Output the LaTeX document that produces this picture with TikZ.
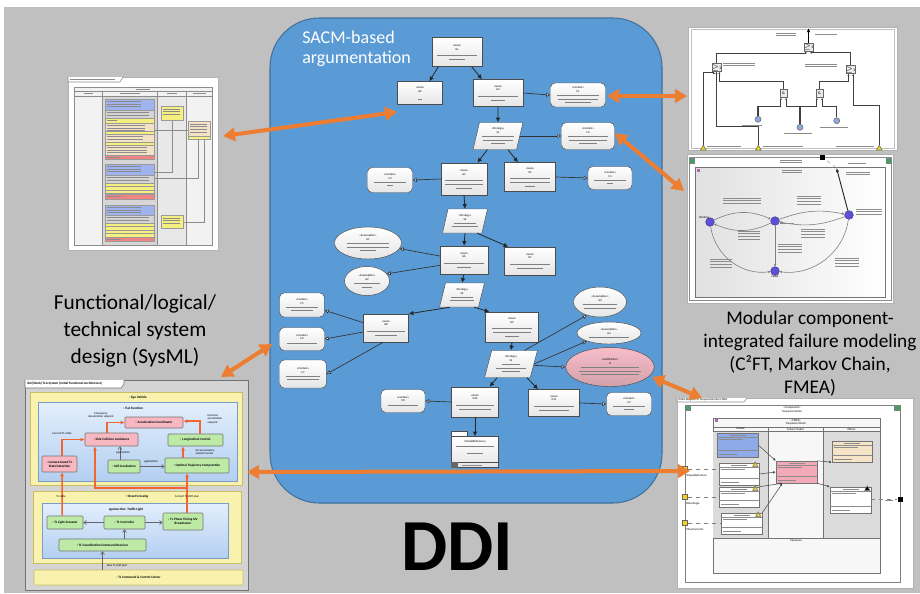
\documentclass[tikz,border=0pt]{standalone}
\usepackage{fontspec}
\setmainfont{Carlito}
\usetikzlibrary{arrows.meta,shapes.geometric,positioning}

\definecolor{bggray}{HTML}{C0C0C0}
\definecolor{sacmblue}{HTML}{5B9BD5}
\definecolor{sacmline}{HTML}{41719C}
\definecolor{ddiorange}{HTML}{ED7D31}
\definecolor{flowred}{HTML}{F26430}
\definecolor{justpink}{HTML}{F7BDC8}
\definecolor{sysyellow}{HTML}{F8F2AE}
\definecolor{sysyelline}{HTML}{C9BF62}
\definecolor{sysbluetop}{HTML}{E3EFFC}
\definecolor{sysbluebot}{HTML}{B3CFF1}
\definecolor{sysblueline}{HTML}{7D9CC4}
\definecolor{syspink}{HTML}{F8B8C2}
\definecolor{sysgreen}{HTML}{BDEBA6}
\definecolor{cellblue}{HTML}{9FB4EE}
\definecolor{cellgray}{HTML}{D4D4D4}
\definecolor{cellyellow}{HTML}{F4EF7E}
\definecolor{cellbeige}{HTML}{F3E2C6}
\definecolor{cellred}{HTML}{EE8585}
\definecolor{statepurple}{HTML}{5B50D6}
\definecolor{fmeablue}{HTML}{8FAAE8}
\definecolor{fmeapink}{HTML}{F3A9B8}
\definecolor{fmeabeige}{HTML}{F5E4C8}
\definecolor{portyellow}{HTML}{F2D21B}
\definecolor{cornergreen}{HTML}{3DA35D}

\newcommand{\fk}[1]{\textcolor{black!50}{\rule[0.3pt]{#1pt}{0.35pt}}}
\newcommand{\sacmfont}{\fontsize{2.2}{2.7}\selectfont}
\newcommand{\sysfont}{\fontsize{2.5}{3}\selectfont}
\newcommand{\shotfont}{\fontsize{2.2}{2.6}\selectfont}
\newcommand{\fakelines}[4]{\foreach \fli in {1,...,#3}{\draw[faketxt] (#1,{#2+2.6*(\fli-1)}) -- ++(#4,0);}}

\tikzset{
  wh/.style 2 args={minimum width=#1*0.75pt,minimum height=#2*0.75pt},
  faketxt/.style={black!45,line width=0.35pt},
  sacm/.style={draw=black!70,top color=white,bottom color=black!10,line width=0.35pt,inner sep=0.5pt,font=\sacmfont,align=center},
  goal/.style={sacm,rectangle},
  context/.style={sacm,rectangle,rounded corners=3.5pt},
  strategy/.style={sacm,trapezium,trapezium left angle=72,trapezium right angle=108,trapezium stretches=true},
  assume/.style={sacm,ellipse},
  support/.style={-{Latex[length=3.5pt,width=3.5pt]},line width=0.6pt,black!85},
  incontext/.style={-{Triangle[length=3pt,width=3pt,fill=white]},line width=0.5pt,black!80},
  bigarrow/.style={{Triangle[length=9pt,width=10pt]}-{Triangle[length=9pt,width=10pt]},line width=3pt,ddiorange},
  blk/.style={draw=black!55,line width=0.4pt,rounded corners=0.8pt,font=\sysfont\bfseries,inner sep=0.5pt,align=center},
  pinkblk/.style={blk,fill=syspink},
  greenblk/.style={blk,fill=sysgreen},
  flow/.style={-{Latex[length=3pt,width=3pt]},line width=1.1pt,flowred},
  sig/.style={-{Straight Barb[length=2pt,width=3pt]},line width=0.5pt,black!60},
  cell/.style={draw=black!40,line width=0.3pt},
  gate/.style={draw=black!60,fill=black!8,font=\fontsize{3}{3}\selectfont,inner sep=0,wh={7}{8}},
  ftin/.style={-{Latex[length=1.6pt,width=1.6pt]},black!75,line width=0.8pt},
  basicev/.style={circle,fill=cyan!45!blue!45,draw=black!60,inner sep=0,minimum size=4.5pt},
  inport/.style={regular polygon,regular polygon sides=3,fill=portyellow,draw=black!60,inner sep=0,minimum size=5pt},
  corner/.style={fill=cornergreen,draw=black!50,inner sep=0,wh={5}{5}},
  mstate/.style={circle,fill=statepurple,draw=statepurple!60!black,line width=0.3pt,inner sep=0,minimum size=6.5pt},
  trans/.style={-{Stealth[length=2pt,width=2pt]},line width=0.45pt,black!50},
  fmeabox/.style={draw=black!55,fill=white,line width=0.35pt,inner sep=0},
  port/.style={fill=portyellow,draw=black!60,inner sep=0,wh={5}{5}},
  fmarrow/.style={-{Latex[length=2pt,width=2pt]},black!70,line width=0.4pt},
  warn/.style={regular polygon,regular polygon sides=3,fill=portyellow,draw=black!60,inner sep=0,minimum size=4.5pt},
  tiny/.style={font=\shotfont,inner sep=0}
}

\begin{document}
\begin{tikzpicture}[x=0.75pt,y=-0.75pt]
\useasboundingbox (0,0) rectangle (920,593);
\fill[white] (0,0) rectangle (920,593);
\fill[bggray] (4,7) rectangle (920,593);

% SACM argumentation
\draw[sacmline,fill=sacmblue,line width=0.8pt,rounded corners=37pt] (270,18) rectangle (662,503);
\node[anchor=north west,text=white,font=\fontsize{13.5}{15}\selectfont,align=left,inner sep=0] (sacmtitle) at (302,31) {SACM-based\\argumentation};

\node[goal,wh={50}{29}] (g1) at (457,52) {«Goal»\\G1\\[1.5pt]\fk{30}\\\fk{12}};
\node[goal,wh={45}{23}] (g2) at (420,93) {«Goal»\\G2\\[3pt]\fk{3}};
\node[goal,wh={50}{27}] (g3) at (498,93) {«Goal»\\G3\\[2pt]\fk{30}\\\fk{10}};
\node[context,wh={55}{24}] (c1) at (578,95) {«Context»\\C1\\\fk{32}\\\fk{30}\\\fk{20}};
\node[strategy,wh={50}{27}] (s1) at (498,136) {«Strategy»\\S1\\\fk{24}\\\fk{22}\\\fk{10}};
\node[context,wh={53}{27}] (c2) at (588,136) {«Context»\\C2\\\fk{30}\\\fk{28}\\\fk{14}};
\node[goal,wh={46}{32}] (g4) at (464,179) {«Goal»\\G4\\[2pt]\fk{28}\\\fk{28}\\\fk{12}};
\node[goal,wh={51}{29}] (g5) at (530,177) {«Goal»\\G5\\[2pt]\fk{30}\\\fk{30}\\\fk{8}};
\node[context,wh={45}{25}] (c3) at (390,180) {«Context»\\C3\\\fk{24}\\\fk{4}};
\node[context,wh={44}{23}] (c4) at (610,178) {«Context»\\C4\\\fk{24}\\\fk{4}};
\node[strategy,wh={45}{24}] (s2) at (465,221) {«Strategy»\\S2\\\fk{16}\\\fk{20}};
\node[goal,wh={48}{28}] (g6) at (464,260) {«Goal»\\G6\\[2pt]\fk{30}\\\fk{10}};
\node[goal,wh={51}{28}] (g7) at (530,261) {«Goal»\\G7\\[2pt]\fk{30}\\\fk{20}};
\node[assume,wh={67}{32}] (a1) at (368,243) {«Assumption»\\A1\\\fk{32}\\\fk{32}\\\fk{12}};
\node[assume,wh={45}{29}] (a2) at (367,281) {«Assumption»\\A2\\\fk{20}\\\fk{8}};
\node[strategy,wh={45}{24}] (s3) at (462,295) {«Strategy»\\S3\\\fk{16}\\\fk{18}};
\node[context,wh={45}{24}] (c5) at (302,305) {«Context»\\C5\\\fk{24}\\\fk{16}};
\node[context,wh={45}{23}] (c6) at (302,339) {«Context»\\C6\\\fk{22}};
\node[context,wh={47}{28}] (c7) at (303,374) {«Context»\\C7\\\fk{26}\\\fk{24}};
\node[goal,wh={45}{28}] (g8) at (386,328) {«Goal»\\G8\\[2pt]\fk{28}\\\fk{16}};
\node[goal,wh={53}{30}] (g9) at (512,327) {«Goal»\\G9\\[2pt]\fk{30}\\\fk{28}\\\fk{10}};
\node[strategy,wh={53}{27}] (s4) at (511,364) {«Strategy»\\S4\\\fk{14}\\\fk{22}\\\fk{14}};
\node[assume,wh={53}{30}] (a3) at (600,302) {«Assumption»\\A3\\\fk{26}\\\fk{24}};
\node[assume,wh={64}{22}] (a4) at (609,333) {«Assumption»\\A4\\\fk{30}};
\node[assume,top color=justpink,bottom color=justpink!85!black,wh={84}{39}] (j1) at (610,367) {«Justification»\\J1\\\fk{44}\\\fk{46}\\\fk{44}};
\node[context,wh={44}{23}] (c8) at (403,401) {«Context»\\C8\\\fk{22}};
\node[goal,wh={47}{30}] (g10) at (475,402) {«Goal»\\G10\\[2pt]\fk{28}\\\fk{24}};
\node[goal,wh={51}{27}] (g11) at (554,403) {«Goal»\\G11\\[2pt]\fk{30}\\\fk{22}};
\node[context,wh={45}{23}] (c9) at (629,404) {«Context»\\C9\\\fk{24}\\\fk{8}};
\node[goal,wh={47}{31}] (pkg) at (475,452) {«ModelReference»\\\fk{28}\\[3pt]\fk{12}\\[4pt]};
\draw[black!70,fill=white,line width=0.35pt] (pkg.north west) rectangle ([xshift=12pt,yshift=3.75pt]pkg.north west);
\draw[black!70,line width=0.35pt] ([yshift=4pt]pkg.south west) -- ([yshift=4pt]pkg.south east);
\fill[black!60] (pkg.south west) rectangle ([xshift=5pt,yshift=4pt]pkg.south west);
\draw[faketxt] ([xshift=8pt,yshift=2pt]pkg.south west) -- ++(20,0);

\draw[support] ([xshift=-14pt]g1.south) -- ([xshift=7pt]g2.north);
\draw[support] ([xshift=11pt]g1.south) -- ([xshift=-12pt]g3.north);
\draw[incontext] (g3.east) -- (c1.west);
\draw[support] (g3.south) -- (s1.north);
\draw[incontext] (s1.east) -- (c2.west);
\draw[support] ([xshift=-8pt]s1.south) -- ([xshift=10pt]g4.north);
\draw[support] ([xshift=7.5pt]s1.south) -- ([xshift=-9pt]g5.north);
\draw[incontext] (g4.west) -- (c3.east);
\draw[incontext] (g5.east) -- (c4.west);
\draw[support] (g4.south) -- (s2.north);
\draw[support] (s2.south) -- (g6.north);
\draw[support] (s2.south east) -- ([xshift=3pt]g7.north west);
\draw[incontext] ([yshift=3pt]g6.west) -- (a1.-10);
\draw[incontext] ([yshift=-4pt]g6.west) -- (a2.20);
\draw[support] (g6.south) -- (s3.north);
\draw[support] (s3.south west) -- (g8.north east);
\draw[support] (s3.south east) -- ([xshift=3pt]g9.north west);
\draw[incontext] ([yshift=4pt]g8.west) -- ([yshift=-4pt]c5.east);
\draw[incontext] ([yshift=-3pt]g8.west) -- (c6.east);
\draw[incontext] ([xshift=-2pt]g8.south) -- (c7.east);
\draw[support] (g9.south) -- (s4.north);
\draw[incontext] (s4.north east) -- (a3.225);
\draw[incontext] (s4.east) -- (a4.200);
\draw[incontext] ([yshift=-1pt]s4.east) -- (j1.west);
\draw[support] ([xshift=-10.5pt]s4.south) -- ([xshift=11pt]g10.north);
\draw[support] ([xshift=12pt]s4.south) -- ([xshift=-12pt]g11.north);
\draw[incontext] (g10.west) -- (c8.east);
\draw[incontext] (g11.east) -- (c9.west);
\draw[support] (g10.south) -- (pkg.north);

% requirements table screenshot
\draw[black!30,fill=white] (68,77) rectangle (218,250);
\draw[black!45,fill=white] (68,77) -- (68,82) -- (120,82) -- (123,77);
\fakelines{70}{79.5}{1}{45}
\draw[black!45,fill=black!5] (74,87) rectangle (212,245);
\fill[black!16] (103,96) rectangle (157,245);
\fill[black!9] (158,96) rectangle (186,245);
\draw[black!45] (74,91) -- (212,91) (74,96) -- (212,96) (102.5,91) -- (102.5,245) (157.5,91) -- (157.5,245) (186.5,91) -- (186.5,245);
\fakelines{136}{89}{1}{14}
\fakelines{84}{93.5}{1}{9}
\fakelines{120}{93.5}{1}{20}
\fakelines{167}{93.5}{1}{10}
\fakelines{193}{93.5}{1}{13}
\draw[cell,fill=cellblue] (105,99) rectangle (154,110);
\draw[cell,fill=cellgray] (105,110) rectangle (154,118);
\draw[cell,fill=cellyellow] (105,118) rectangle (154,123);
\draw[cell,fill=cellbeige] (105,123) rectangle (154,131);
\draw[cell,fill=cellyellow] (105,131) rectangle (154,134);
\draw[cell,fill=cellbeige] (105,134) rectangle (154,142);
\draw[cell,fill=cellyellow] (105,142) rectangle (154,145);
\draw[cell,fill=cellbeige] (105,145) rectangle (154,155);
\draw[cell,fill=cellred] (105,155) rectangle (154,159);
\fakelines{107}{101.5}{3}{34}
\fakelines{107}{112.5}{2}{42}
\fakelines{107}{120.5}{1}{10}
\fakelines{107}{125.5}{3}{38}
\fakelines{107}{136.5}{2}{36}
\fakelines{107}{147.5}{3}{40}
\fakelines{107}{157}{1}{14}
\draw[cell,fill=cellblue] (105,164) rectangle (154,175);
\draw[cell,fill=cellgray] (105,175) rectangle (154,183);
\draw[cell,fill=cellyellow] (105,183) rectangle (154,186.5);
\draw[cell,fill=cellyellow] (105,186.5) rectangle (154,190);
\draw[cell,fill=cellyellow] (105,190) rectangle (154,193.5);
\draw[cell,fill=cellred] (105,194.5) rectangle (154,199);
\fakelines{107}{166.5}{3}{34}
\fakelines{107}{177.5}{2}{42}
\fakelines{107}{196.5}{1}{14}
\draw[cell,fill=cellblue] (105,205) rectangle (154,215);
\draw[cell,fill=cellgray] (105,215) rectangle (154,223);
\draw[cell,fill=cellyellow] (105,223) rectangle (154,226.5);
\draw[cell,fill=cellyellow] (105,226.5) rectangle (154,230);
\draw[cell,fill=cellyellow] (105,230) rectangle (154,233.5);
\draw[cell,fill=cellyellow] (105,233.5) rectangle (154,237);
\draw[cell,fill=cellred] (105,237) rectangle (154,241);
\fakelines{107}{207.5}{3}{34}
\fakelines{107}{217.5}{2}{42}
\fakelines{107}{239}{1}{14}
\draw[black!45,line width=0.3pt] (154,130) -- (188,130) (172,120) |- (154,172) (198,139) |- (154,178) (204,139) |- (183,222);
\draw[cell,fill=cellyellow] (161,106) rectangle (183,120);
\draw[cell,fill=cellyellow] (161,215) rectangle (183,228);
\draw[cell,fill=cellbeige] (188,121) rectangle (210,136);
\draw[cell,fill=cellyellow] (188,136) rectangle (210,139);
\fakelines{163}{109}{3}{17}
\fakelines{163}{218}{3}{17}
\fakelines{190}{124}{4}{17}

% fault tree screenshot
\draw[black!30,fill=white] (688,27) rectangle (897,150);
\draw[black!25] (691,29) rectangle (894,148);
\node[gate] (orTop) at (808.5,47) {$\geq$1};
\node[gate] (orL) at (716.5,67.5) {$\geq$1};
\node[gate] (orR) at (850.5,69.5) {$\geq$1};
\node[gate] (andL) at (783.5,93.5) {\&};
\node[gate] (andR) at (819.5,93.5) {\&};
\node[basicev] (be1) at (758,119.3) {};
\node[basicev] (be2) at (800,127.3) {};
\node[basicev] (be3) at (836.7,120.7) {};
\node[inport] (tr1) at (703.3,148.5) {};
\node[inport] (tr2) at (758.3,148.5) {};
\node[inport] (tr3) at (879.3,148.5) {};
\coordinate (ftout) at (808.5,28);
\draw[black,line width=0.8pt,-{Latex[length=3pt,width=2.5pt]}] (orTop.north) -- (ftout);
\draw[ftin] (orL.north) -- ++(0,-10) -| ([xshift=-2pt]orTop.south);
\draw[ftin] (orR.north) -- ++(0,-13) -| ([xshift=2pt]orTop.south);
\draw[ftin] (andL.north) -- ++(0,-8) -| ([xshift=2.2pt]orL.south);
\draw[ftin] (andR.north) -- ++(0,-8) -| ([xshift=-1.5pt]orR.south);
\draw[ftin] (be1.north) -- ++(0,-10) -| ([xshift=-2pt]andL.south);
\draw[ftin] (be2.north) -- ++(0,-18) -| ([xshift=2pt]andL.south);
\draw[ftin] (be2.north) -- ++(0,-18) -| ([xshift=-2pt]andR.south);
\draw[ftin] (be3.north) -- ++(0,-11) -| ([xshift=2pt]andR.south);
\draw[ftin] (tr1.north) -- ++(0,-72) -| ([xshift=-2pt]orL.south);
\draw[ftin] (tr2.north) -- ++(0,-18) -| (orL.south);
\draw[ftin] (tr3.north) -- ++(0,-39) -| ([xshift=2pt]orR.south);
\fakelines{776}{33}{2}{20}
\fakelines{815}{34}{1}{22}
\fakelines{723}{63}{2}{32}
\fakelines{805}{64}{2}{32}
\fakelines{742}{125}{1}{20}
\fakelines{784}{133}{1}{28}
\fakelines{820}{127}{1}{28}
\fakelines{707}{146}{1}{34}
\fakelines{763}{146}{1}{40}
\fakelines{836}{146}{1}{38}

% markov chain screenshot
\draw[black!30,fill=white] (687,154) rectangle (893,303);
\draw[black!45] (689,157) rectangle (891,300);
\draw[black!55,left color=black!12,right color=white] (695,167) rectangle (885,297);
\node[corner] (cg1) at (691.5,160.5) {};
\node[corner] (cg2) at (888.5,160.5) {};
\node[fill=black,inner sep=0,wh={5}{5}] (mcport) at (822.5,157.5) {};
\fill[violet!60] (697,169) rectangle (700,172);
\fakelines{780}{160}{2}{22}
\fakelines{782}{170}{2}{20}
\fakelines{848}{163}{1}{18}
\node[mstate] (st1) at (710,222) {};
\node[mstate] (st2) at (775,221) {};
\node[mstate] (st3) at (849,215) {};
\node[mstate] (st4) at (775,271) {};
\draw[trans] (st1) to[bend left=25] (st2);
\draw[trans] (st2) to[bend left=25] (st1);
\draw[trans] (st2) to[bend left=16] (st3);
\draw[trans] (st3) to[bend left=16] (st2);
\draw[trans] (st1) to[bend right=45] (st4);
\draw[trans] (st3) to[bend left=45] (st4);
\draw[trans] (st2) -- (st4);
\coordinate (mcin) at (836.5,168);
\draw[black!85,line width=0.7pt,-{Latex[length=3pt,width=2.5pt]}] (st3) -- (mcin);
\draw[black!50,dashed,line width=0.3pt] (mcin) -- (mcport);
\node[tiny,anchor=south] (wlbl) at (704,219) {Working};
\node[tiny,anchor=north] (flbl) at (775,275) {Failed};
\fakelines{780}{223}{1}{14}
\fakelines{723}{198}{3}{38}
\fakelines{797}{196}{4}{24}
\fakelines{738}{231}{4}{22}
\fakelines{801}{229}{4}{24}
\fakelines{778}{244}{4}{24}
\fakelines{710}{259}{4}{22}
\fakelines{835}{258}{4}{24}
\fakelines{856}{209}{3}{26}
\fakelines{846}{172}{2}{24}

% FMEA screenshot
\draw[black!30,fill=white] (677,398) rectangle (913,588);
\draw[black!45,fill=white] (677,398) -- (677,402) -- (744,402) -- (747,398);
\node[tiny,anchor=west] (fmeatab) at (678,400) {FMEA Diagram of TorqueController FMEA};
\draw[black!50] (685,405) rectangle (900,582);
\node[corner] (cg3) at (688,408) {};
\node[corner] (cg4) at (897,408) {};
\node[tiny,align=center] (cmplbl) at (792,410) {«Component»\\TorqueController};
\draw[black!55,fill=black!3] (713,418) rectangle (880,573);
\fill[violet!60] (715,419) rectangle (718,422);
\node[tiny,align=center] (fmealbl) at (796,422.5) {«FMEA»\\TorqueController};
\fill[black!14] (713,431) rectangle (768,538);
\fill[black!14] (823,431) rectangle (880,538);
\draw[black!55] (713,427) -- (880,427) (713,431) -- (880,431) (768,427) -- (768,538) (823,427) -- (823,538) (713,538) -- (880,538);
\node[tiny] (causeslbl) at (740.5,429) {Causes};
\node[tiny] (modeslbl) at (795.5,429) {Failure Modes};
\node[tiny] (effectslbl) at (851.5,429) {Effects};
\node[tiny] (measlbl) at (796,541) {Measures};
\node[fmeabox,fill=fmeablue,wh={41}{24}] (cz1) at (737.5,445) {};
\node[fmeabox,wh={40}{22}] (cz2) at (739,474) {};
\node[fmeabox,wh={40}{20}] (cz3) at (739,497) {};
\node[fmeabox,wh={41}{21}] (cz4) at (741.5,523.5) {};
\node[fmeabox,fill=fmeapink,wh={41}{22}] (fm1) at (796.5,472) {};
\node[fmeabox,fill=fmeabeige,wh={40}{21}] (ef1) at (852,451.5) {};
\node[fmeabox,wh={41}{26}] (ef2) at (850.5,500) {};
\foreach \bx in {cz1,cz2,cz3,cz4,fm1,ef1,ef2}{
  \draw[black!45,line width=0.3pt] ([yshift=-3pt]\bx.north west) -- ([yshift=-3pt]\bx.north east);
  \draw[black!45,line width=0.3pt] ([yshift=5pt]\bx.south west) -- ([yshift=5pt]\bx.south east);
  \draw[faketxt] ([xshift=-6pt,yshift=-1.5pt]\bx.north) -- ++(16,0);
  \draw[faketxt] ([xshift=1.5pt,yshift=-5pt]\bx.north west) -- ++(24,0);
  \draw[faketxt] ([xshift=1.5pt,yshift=2.5pt]\bx.south west) -- ++(18,0);
}
\node[warn] (w1) at ([xshift=-3pt,yshift=-1.6pt]cz2.north east) {};
\node[warn] (w2) at ([xshift=-3pt,yshift=-1.6pt]cz3.north east) {};
\node[warn] (w3) at ([xshift=-3pt,yshift=-1.6pt]cz4.north east) {};
\node[warn,fill=black] (w4) at ([xshift=-3pt,yshift=-1.6pt]ef2.north east) {};
\node[port] (pt1) at (685,469) {};
\node[port] (pt2) at (685,497) {};
\node[port] (pt3) at (685,523) {};
\node[fill=black,inner sep=0,wh={5}{5}] (pout) at (900,499) {};
\draw[black!50,dashed,line width=0.3pt] (pt1) -- (pt1 -| cz2.west);
\draw[black!50,dashed,line width=0.3pt] (pt2) -- (pt2 -| cz3.west);
\draw[black!50,dashed,line width=0.3pt] (pt3) -- (pt3 -| cz4.west);
\draw[black!50,dashed,line width=0.3pt] (ef2.east |- pout) -- (pout);
\node[tiny,anchor=west] (ptlbl1) at (686,475.5) {TorqueReference};
\node[tiny,anchor=west] (ptlbl2) at (686,503.5) {RotorAngle};
\node[tiny,anchor=west] (ptlbl3) at (686,529.5) {PhaseCurrents};
\fakelines{885}{500.5}{1}{8}
\draw[fmarrow] (cz1.east) -- (fm1.north west);
\draw[fmarrow] (cz2.east) -- (fm1.west);
\draw[fmarrow] (cz3.north east) -- ([xshift=5pt]fm1.south west);
\draw[fmarrow] (cz4.north east) -- ([xshift=5pt]fm1.south west);
\draw[fmarrow] (fm1.north east) -- (ef1.south west);
\draw[fmarrow] (fm1.south east) -- (ef2.north west);

% SysML architecture screenshot
\draw[black!55,fill=black!17,line width=0.5pt] (25,380) rectangle (248,590);
\draw[black!55,fill=white,line width=0.4pt] (25,380) -- (25,388) -- (121,388) -- (124,384) -- (124,380);
\node[anchor=west,font=\sysfont\bfseries,inner sep=0] (ibdtitle) at (27,384) {ibd [block] TLA System [Initial Functional Architecture]};
\draw[sysyelline,fill=sysyellow,line width=0.6pt] (30,392) rectangle (242,485);
\draw[sysblueline,top color=sysbluetop,bottom color=sysbluebot] (38,402) rectangle (237,481);
\draw[sysyelline,fill=sysyellow,line width=0.6pt] (33,491) rectangle (241,563);
\draw[sysblueline,top color=sysbluetop,bottom color=sysbluebot] (42,503) rectangle (228,558);
\node[font=\sysfont\bfseries,inner sep=0] (egolbl) at (138,398) {: Ego Vehicle};
\node[font=\sysfont\bfseries,inner sep=0] (tlalbl) at (133,408.5) {: TLA Function};
\node[font=\sysfont\bfseries,inner sep=0] (crosslbl) at (137,497) {: Street Crossing};
\node[font=\sysfont\bfseries,inner sep=0] (junclbl) at (126,510) {egoJunction: Traffic Light};

\node[pinkblk,wh={58}{11}] (acc) at (154,422.5) {: Acceleration Coordinator};
\node[pinkblk,wh={53}{13}] (sca) at (111.5,439.5) {: Side Collision Avoidance};
\node[greenblk,wh={55}{12}] (lon) at (195.5,440) {: Longitudinal Control};
\node[pinkblk,wh={35}{16}] (cam) at (59.5,464) {: Camera-based TL\\State Detection};
\node[greenblk,wh={32}{13}] (self) at (124,466.5) {: Self-localization};
\node[greenblk,wh={64}{15}] (otc) at (197,465.5) {: Optimal Trajectory Computation};
\node[greenblk,wh={36}{13}] (tla) at (65,522.5) {: TL Light Actuator};
\node[greenblk,wh={41}{13}] (tlc) at (124.5,522.5) {: TL Controller};
\node[greenblk,wh={40}{17}] (tlp) at (183,521.5) {: TL Phase Timing I2V\\Broadcaster};
\node[greenblk,wh={87}{12}] (tcr) at (102.5,545) {: TL Coordination Command Receiver};
\node[blk,fill=sysyellow,draw=sysyelline,wh={209}{15}] (ccc) at (138.5,577.5) {: TL Command \& Control Center};

\coordinate (tlpup) at ([xshift=3pt]tlp.north);
\coordinate (otcup) at ([xshift=-10.5pt]otc.north);
\coordinate (selfup) at ([xshift=-3pt]self.north);
\coordinate (flowsplit) at (187,488);
\draw[flow] ([xshift=-3.4pt]sca.north) |- (acc.west);
\draw[flow] ([xshift=3.4pt]lon.north) |- ([yshift=1pt]acc.east);
\draw[flow] ([xshift=2pt]cam.north) |- (sca.west);
\draw[flow] ([xshift=-2.2pt]tla.north) -- ([xshift=1.9pt]cam.south);
\draw[flow] (tlpup) -- (tlpup |- otc.south);
\draw[flow] (flowsplit) -| ([xshift=-12.4pt]sca.south);
\draw[flow] (otcup) -- (otcup |- lon.south);
\draw[sig] (selfup) -- (selfup |- sca.south);
\draw[sig] (self.east) -- (self.east -| otc.west);
\draw[sig] (tlc.west) -- (tla.east);
\draw[sig] (tlc.east) -- (tlc.east -| tlp.west);
\draw[sig] (tcr.north -| tlc.south) -- (tlc.south);
\draw[sig] (tcr.south |- ccc.north) -- (tcr.south);

\node[tiny,align=center] (emlbl) at (101,415.5) {Emergency\\deceleration setpoint};
\node[tiny,align=left] (nomlbl) at (215,419) {Nominal\\acceleration\\setpoint};
\node[tiny] (curlbl) at (62,434) {Current TL State};
\node[tiny] (pos1lbl) at (123,453) {egoPosition};
\node[tiny] (pos2lbl) at (151,461.5) {egoPosition};
\node[tiny,align=left] (declbl) at (205,452) {de/acceleration\\setpoint vector};
\node[tiny] (tlslbl) at (61,496.5) {TL state};
\node[tiny] (planlbl) at (187,496.5) {Current TL shift plan};
\node[tiny] (newlbl) at (117,566) {New TL shift plan};

% captions
\node[font=\fontsize{16}{20}\selectfont,align=center] (syslbl) at (135,331) {Functional/logical/\\technical system\\design (SysML)};
\node[font=\fontsize{14.5}{17.3}\selectfont,align=center] (modlbl) at (810,354) {Modular component-\\integrated failure modeling\\(C²FT, Markov Chain,\\FMEA)};
\node[font=\fontsize{55}{55}\selectfont\bfseries] (ddi) at (457,546.5) {DDI};

% orange links
\coordinate (lkTL) at (223,136);
\coordinate (lkArgL) at (397,112);
\coordinate (lkArgC) at (607,96);
\coordinate (lkFT) at (687,96);
\coordinate (lkArgC2) at (615,133);
\coordinate (lkMC) at (684,191);
\coordinate (lkSys) at (221,377);
\coordinate (lkArgS) at (272,344);
\coordinate (lkSysB) at (247,472);
\coordinate (lkFM) at (690,471);
\coordinate (lkArgJ) at (652,377);
\coordinate (lkFM2) at (702,398);
\draw[bigarrow] (lkTL) -- (lkArgL);
\draw[bigarrow] (lkArgC) -- (lkFT);
\draw[bigarrow] (lkArgC2) -- (lkMC);
\draw[bigarrow] (lkSys) -- (lkArgS);
\draw[bigarrow] (lkSysB) -- (lkFM);
\draw[bigarrow] (lkArgJ) -- (lkFM2);
\end{tikzpicture}
\end{document}
